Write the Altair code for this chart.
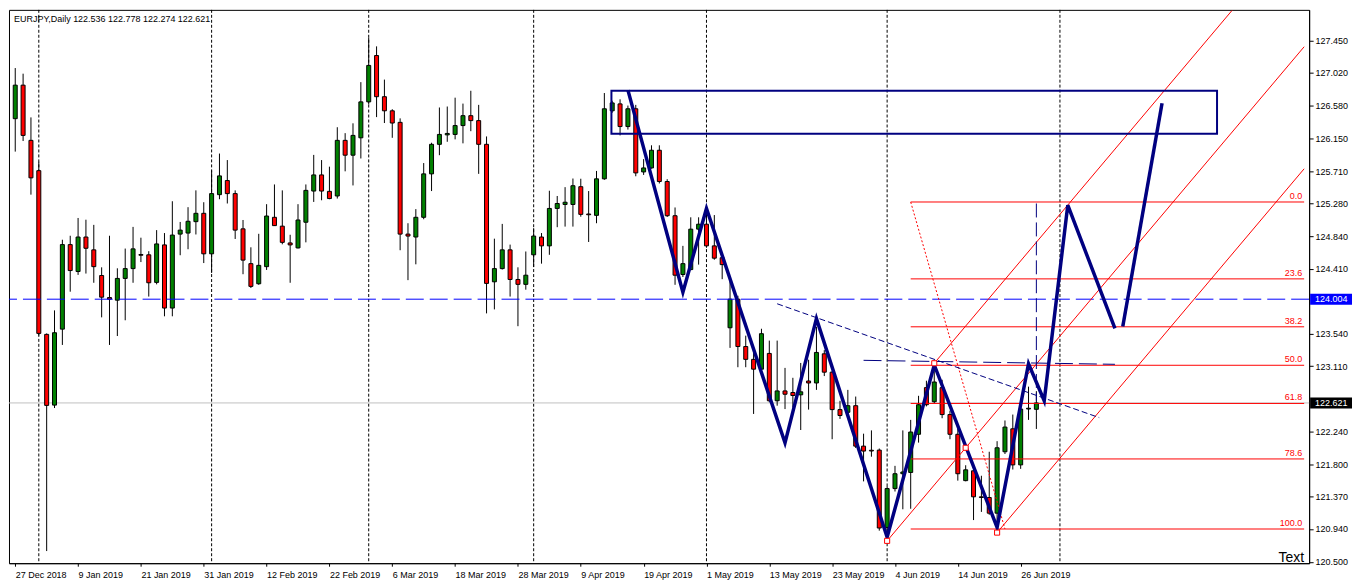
import json
import altair as alt
import pandas as pd

# ---------------- data ----------------
symbol = "EURJPY,Daily"
last_ohlc = [122.536, 122.778, 122.274, 122.621]

opens = [126.411, 126.858, 126.122, 125.718, 123.535, 122.592, 123.605, 124.732, 124.373, 124.833,
         124.662, 124.320, 124.026, 123.991, 124.281, 124.412, 124.600, 124.596, 124.228, 124.728,
         123.886, 124.872, 124.886, 125.038, 125.149, 124.609, 125.398, 125.586, 125.412, 124.942,
         124.478, 124.210, 124.438, 125.096, 124.978, 124.754, 124.688, 125.030, 125.446, 125.661,
         125.442, 125.380, 126.122, 125.924, 126.156, 126.635, 127.253, 126.704, 126.516, 126.362,
         124.872, 124.833, 125.096, 125.675, 126.069, 126.195, 126.201, 126.319, 126.451, 126.385,
         126.069, 124.236, 124.412, 124.662, 124.267, 124.202, 124.596, 124.833, 124.715, 125.214,
         125.267, 125.267, 125.504, 125.140, 125.122, 125.609, 126.516, 126.608, 126.306, 126.543,
         125.701, 125.754, 125.990, 125.573, 125.117, 124.333, 124.399, 124.938, 125.004, 124.715,
         124.557, 123.623, 124.004, 123.373, 123.202, 123.071, 123.281, 122.650, 122.781, 122.760,
         122.729, 122.913, 122.887, 123.276, 123.031, 122.532, 122.496, 122.584, 122.045, 121.990,
         121.992, 120.961, 121.479, 121.677, 121.694, 122.203, 122.825, 122.637, 122.825, 122.466,
         122.203, 121.585, 121.716, 121.369, 121.360, 121.151, 121.970, 122.276, 121.795, 122.540,
         122.536]
highs = [127.086, 127.011, 126.428, 125.836, 123.548, 123.855, 124.797, 124.850, 125.087, 125.064,
         124.995, 124.429, 124.850, 124.416, 124.679, 124.968, 124.824, 124.644, 124.925, 124.886,
         125.310, 125.034, 125.231, 125.455, 125.297, 125.722, 125.946, 125.859, 125.455, 125.060,
         124.696, 124.876, 125.271, 125.534, 125.455, 124.863, 125.271, 125.534, 125.928, 125.859,
         125.771, 126.297, 126.218, 126.349, 126.898, 127.490, 127.375, 126.932, 126.537, 126.415,
         125.017, 125.205, 125.819, 126.090, 126.560, 126.573, 126.691, 126.612, 126.783, 126.595,
         126.174, 124.811, 125.008, 124.732, 124.429, 124.640, 124.951, 124.886, 125.450, 125.380,
         125.498, 125.613, 125.610, 125.446, 125.714, 126.753, 126.650, 126.669, 126.586, 126.595,
         125.872, 126.056, 126.056, 125.604, 125.227, 124.715, 125.096, 125.096, 125.190, 125.126,
         124.623, 124.245, 124.050, 123.518, 123.350, 123.610, 123.452, 123.452, 123.088, 122.956,
         123.154, 123.197, 123.636, 123.325, 123.050, 122.650, 122.795, 122.706, 122.211, 122.255,
         122.013, 121.510, 121.782, 122.255, 122.395, 122.716, 122.917, 123.120, 122.930, 122.518,
         122.276, 121.790, 121.733, 121.650, 121.970, 122.111, 122.387, 122.466, 122.630, 122.838,
         122.778]
lows = [125.972, 126.113, 125.398, 123.520, 120.646, 122.553, 123.394, 124.104, 124.328, 124.346,
        124.223, 123.762, 123.394, 123.513, 123.723, 124.223, 124.499, 124.039, 124.202, 123.776,
        123.776, 124.590, 124.670, 124.867, 124.486, 124.354, 125.337, 125.280, 124.807, 124.337,
        124.153, 124.196, 124.394, 124.980, 124.736, 124.223, 124.680, 124.762, 125.301, 125.323,
        125.337, 125.346, 125.709, 125.521, 125.880, 126.600, 126.432, 126.353, 126.156, 124.657,
        124.258, 124.469, 125.070, 125.446, 125.924, 126.103, 126.135, 126.082, 126.244, 125.675,
        123.815, 123.868, 124.400, 124.039, 123.644, 124.131, 124.433, 124.478, 124.596, 124.964,
        124.972, 124.972, 125.104, 124.767, 125.017, 125.596, 126.490, 126.188, 126.266, 125.643,
        125.661, 125.745, 125.547, 125.100, 124.196, 124.300, 124.390, 124.465, 124.690, 124.530,
        124.271, 123.355, 123.097, 123.097, 122.474, 123.050, 122.630, 122.584, 122.539, 122.560,
        122.260, 122.532, 122.795, 122.979, 122.137, 122.408, 122.470, 122.020, 121.575, 121.904,
        120.918, 120.852, 121.440, 121.203, 121.210, 122.092, 122.575, 122.615, 122.417, 122.137,
        121.585, 121.576, 121.059, 121.168, 121.130, 120.961, 121.940, 121.733, 121.742, 122.395,
        122.274]
closes = [126.858, 126.188, 125.622, 123.548, 122.588, 123.557, 124.732, 124.386, 124.833, 124.683,
          124.438, 124.031, 124.005, 124.281, 124.412, 124.675, 124.590, 124.223, 124.741, 123.886,
          124.859, 124.925, 125.043, 125.149, 124.609, 125.412, 125.648, 125.412, 124.925, 124.525,
          124.175, 124.455, 125.113, 124.985, 124.762, 124.728, 125.060, 125.455, 125.661, 125.446,
          125.346, 126.122, 125.924, 126.188, 126.635, 127.121, 126.704, 126.516, 126.353, 124.872,
          124.846, 125.096, 125.675, 126.069, 126.201, 126.214, 126.319, 126.451, 126.385, 126.069,
          124.215, 124.412, 124.662, 124.267, 124.202, 124.324, 124.846, 124.715, 125.214, 125.280,
          125.297, 125.517, 125.135, 125.130, 125.609, 126.543, 126.621, 126.306, 126.543, 125.688,
          125.754, 125.990, 125.573, 125.117, 124.324, 124.478, 124.938, 125.004, 124.715, 124.551,
          124.465, 124.004, 123.373, 123.202, 123.071, 123.544, 122.650, 122.781, 122.737, 122.720,
          122.769, 122.887, 123.294, 123.031, 122.532, 122.453, 122.584, 122.045, 121.979, 121.980,
          120.953, 121.479, 121.677, 121.700, 122.233, 122.597, 122.597, 122.900, 122.466, 122.203,
          121.677, 121.729, 121.369, 121.360, 121.151, 122.023, 122.299, 121.795, 122.539, 122.550,
          122.621]

tick_bars = [0, 8, 16, 24, 32, 40, 48, 56, 64, 72, 80, 88, 96, 104, 112, 120, 128]
tick_labels = ["27 Dec 2018", "9 Jan 2019", "21 Jan 2019", "31 Jan 2019", "12 Feb 2019",
               "22 Feb 2019", "6 Mar 2019", "18 Mar 2019", "28 Mar 2019", "9 Apr 2019",
               "19 Apr 2019", "1 May 2019", "13 May 2019", "23 May 2019", "4 Jun 2019",
               "14 Jun 2019", "26 Jun 2019"]
month_start_bars = [3, 25, 45, 66, 88, 111, 133]
# 123.970 and 122.680 sit under the price tags in the reference, so they are left out
price_ticks = [127.450, 127.020, 126.580, 126.150, 125.710, 125.280, 124.840, 124.410,
               123.540, 123.110, 122.240, 121.800, 121.370, 120.940, 120.500]

hline_price = 124.004
bid_price = 122.621

fib_names = ["0.0", "23.6", "38.2", "50.0", "61.8", "78.6", "100.0"]
fib_prices = [125.300, 124.275, 123.636, 123.123, 122.614, 121.874, 120.940]
fib_start_bar = 114
fib_anchor_bars = [114, 126]
fib_anchor_prices = [125.300, 120.940]

zig_group = ["A"] * 12 + ["B"] * 2
zig_bars = [78, 85, 88, 98, 102, 111, 117, 125, 129, 131, 134, 140, 141, 146]
zig_prices = [126.792, 124.096, 125.214, 122.088, 123.745, 120.830, 123.127, 120.961,
              123.144, 122.650, 125.258, 123.614, 123.640, 126.616]

box_bars = [75.9, 153.0]
box_prices = [126.209, 126.783]

chan_x1 = [111, 117, 125]
chan_y1 = [120.782, 123.150, 120.892]
chan_x2 = [164.09, 154.90, 164.09]
chan_y2 = [127.370, 127.853, 125.743]
chan_pt_bars = [111, 121, 117, 125]
chan_pt_prices = [120.782, 122.023, 123.150, 120.892]

trend_x = [97, 138]
trend_y = [123.943, 122.425]
flat_x = [108, 140]
flat_y = [123.189, 123.136]
vline_bar = 130
vline_prices = [125.280, 122.650]

note_text = "Text"

# ---------------- chart ----------------
W, H = 1304, 555
FONT = "Liberation Sans"
NAVY = "#000080"

XS = alt.Scale(domain=[-0.16, 164.09], nice=False, zero=False)
YS = alt.Scale(domain=[120.484, 127.862], nice=False, zero=False)
label_expr = json.dumps(tick_labels).replace('"', "'") + "[round(datum.value / 8)]"
XA = alt.Axis(values=tick_bars, labelExpr=label_expr, title=None, grid=False,
              tickSize=3, labelPadding=11, labelAlign="left", labelBaseline="alphabetic",
              labelFlush=False, labelOverlap=False, domainColor="black", tickColor="black")
YA = alt.Axis(orient="right", values=price_ticks, format=".3f", title=None, grid=False,
              tickSize=4, labelPadding=2, labelAlign="left", labelBaseline="middle",
              labelFlush=False, labelOverlap=False, domainColor="black", tickColor="black")


def X(f):
    return alt.X(f, type="quantitative", scale=XS, axis=XA)


def Y(f):
    return alt.Y(f, type="quantitative", scale=YS, axis=YA)


candles = pd.DataFrame({"k": list(range(len(opens))), "o": opens, "h": highs,
                        "l": lows, "c": closes})
candles["dir"] = ["up" if c >= o else "down" for o, c in zip(opens, closes)]

seps = alt.Chart(pd.DataFrame({"k": month_start_bars})).mark_rule(
    color="black", strokeDash=[3, 2], strokeWidth=1).encode(x=X("k"))

bid = alt.Chart(pd.DataFrame({"p": [bid_price]})).mark_rule(
    color="#C0C0C0", strokeWidth=1).encode(y=Y("p"))

header_str = symbol + "  " + " ".join(f"{v:.3f}" for v in last_ohlc)
header = alt.Chart(pd.DataFrame({"t": [header_str]})).mark_text(
    align="left", baseline="alphabetic", font=FONT, fontSize=9, color="black").encode(
    x=alt.value(5), y=alt.value(12), text="t:N")

wicks = alt.Chart(candles).mark_rule(color="black", strokeWidth=1).encode(
    x=X("k"), y=Y("l"), y2="h")
bodies = alt.Chart(candles).mark_bar(size=4, stroke="black", strokeWidth=1).encode(
    x=X("k"), y=Y("o"), y2="c",
    color=alt.Color("dir:N", scale=alt.Scale(domain=["up", "down"], range=["#008000", "#FF0000"]),
                    legend=None))

hline = alt.Chart(pd.DataFrame({"p": [hline_price]})).mark_rule(
    color="#0000FF", strokeDash=[18, 6], strokeWidth=1).encode(y=Y("p"))

fib_df = pd.DataFrame({"name": fib_names, "p": fib_prices,
                       "x1": [fib_start_bar] * len(fib_prices), "x2": [164.09] * len(fib_prices),
                       "xl": [163.85] * len(fib_prices)})
fib_lines = alt.Chart(fib_df).mark_rule(color="#FF0000", strokeWidth=1).encode(
    x=X("x1"), x2="x2", y=Y("p"))
fib_text = alt.Chart(fib_df).mark_text(
    align="right", baseline="alphabetic", dy=-3, font=FONT, fontSize=9, color="#FF0000").encode(
    x=X("xl"), y=Y("p"), text="name:N")
fib_diag = alt.Chart(pd.DataFrame({"x1": [fib_anchor_bars[0]], "x2": [fib_anchor_bars[1]],
                                   "y1": [fib_anchor_prices[0]], "y2": [fib_anchor_prices[1]]})).mark_rule(
    color="#FF0000", strokeDash=[2, 2], strokeWidth=1).encode(x=X("x1"), x2="x2", y=Y("y1"), y2="y2")

chan = alt.Chart(pd.DataFrame({"x1": chan_x1, "x2": chan_x2, "y1": chan_y1, "y2": chan_y2})).mark_rule(
    color="#FF0000", strokeWidth=1).encode(x=X("x1"), x2="x2", y=Y("y1"), y2="y2")

trend = alt.Chart(pd.DataFrame({"x1": [trend_x[0]], "x2": [trend_x[1]],
                                "y1": [trend_y[0]], "y2": [trend_y[1]]})).mark_rule(
    color=NAVY, strokeDash=[6, 3], strokeWidth=1).encode(x=X("x1"), x2="x2", y=Y("y1"), y2="y2")
flat = alt.Chart(pd.DataFrame({"x1": [flat_x[0]], "x2": [flat_x[1]],
                               "y1": [flat_y[0]], "y2": [flat_y[1]]})).mark_rule(
    color=NAVY, strokeDash=[18, 6], strokeWidth=1).encode(x=X("x1"), x2="x2", y=Y("y1"), y2="y2")
vline = alt.Chart(pd.DataFrame({"k": [vline_bar], "y1": [vline_prices[0]], "y2": [vline_prices[1]]})).mark_rule(
    color=NAVY, strokeDash=[14, 5], strokeWidth=1).encode(x=X("k"), y=Y("y1"), y2="y2")

box = alt.Chart(pd.DataFrame({"x1": [box_bars[0]], "x2": [box_bars[1]],
                              "y1": [box_prices[0]], "y2": [box_prices[1]]})).mark_rect(
    fill="transparent", stroke=NAVY, strokeWidth=2).encode(x=X("x1"), x2="x2", y=Y("y1"), y2="y2")

zig = alt.Chart(pd.DataFrame({"g": zig_group, "k": zig_bars, "p": zig_prices,
                              "i": list(range(len(zig_bars)))})).mark_line(
    color=NAVY, strokeWidth=3.5).encode(x=X("k"), y=Y("p"), detail="g:N", order="i:Q")

pts = alt.Chart(pd.DataFrame({"k": chan_pt_bars, "p": chan_pt_prices})).mark_square(
    size=26, filled=True, fill="white", stroke="#FF0000", strokeWidth=1, opacity=1).encode(
    x=X("k"), y=Y("p"))

note = alt.Chart(pd.DataFrame({"k": [164.09], "p": [120.50], "t": [note_text]})).mark_text(
    align="right", baseline="alphabetic", font=FONT, fontSize=14, color="black").encode(
    x=X("k"), y=Y("p"), text="t:N")

tags_df = pd.DataFrame({"p": [hline_price, bid_price],
                        "lbl": [f"{hline_price:.3f}", f"{bid_price:.3f}"],
                        "bg": ["#0000FF", "#000000"]})
tag_box = alt.Chart(tags_df).mark_rect(yOffset=-5.5, y2Offset=5.5).encode(
    x=alt.value(W + 1), x2=alt.value(W + 43), y=Y("p"), y2="p",
    fill=alt.Fill("bg:N", scale=None))
tag_text = alt.Chart(tags_df).mark_text(
    align="left", baseline="middle", font=FONT, fontSize=9, color="white").encode(
    x=alt.value(W + 6), y=Y("p"), text="lbl:N")

chart = alt.layer(
    header, seps, bid, wicks, bodies, hline, fib_lines, fib_text, fib_diag, chan,
    trend, flat, vline, box, zig, pts, note, tag_box, tag_text
).properties(
    width=W, height=H, background="white",
    padding={"left": 0, "top": 0, "right": 2, "bottom": 2}
).configure_view(stroke="black", strokeWidth=1).configure_axis(
    labelFont=FONT, labelFontSize=9, labelColor="black", grid=False
)

chart.save("out.html", embed_options={"renderer": "svg", "actions": False})
